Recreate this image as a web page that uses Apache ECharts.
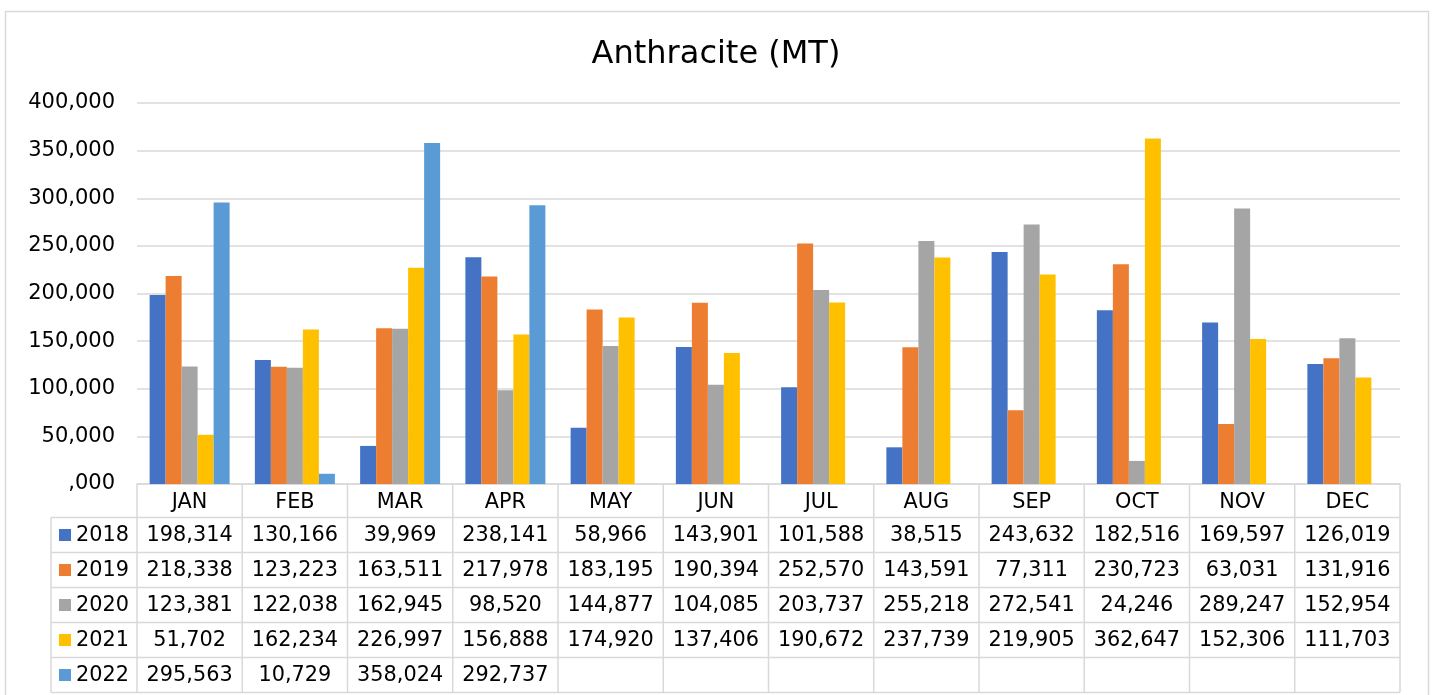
<!DOCTYPE html>
<html>
<head>
<meta charset="utf-8">
<script src="https://cdn.jsdelivr.net/npm/echarts@6/dist/echarts.min.js"></script>
<style>
  html, body { margin: 0; padding: 0; background: #fff; }
  #main { width: 1432px; height: 695px; }
</style>
</head>
<body>
<div id="main"></div>
<script>
var months = ["JAN", "FEB", "MAR", "APR", "MAY", "JUN", "JUL", "AUG", "SEP", "OCT", "NOV", "DEC"];
var years = ["2018", "2019", "2020", "2021", "2022"];
var colors = ["#4472C4", "#ED7D31", "#A5A5A5", "#FFC000", "#5B9BD5"];

var v2018 = [198314, 130166, 39969, 238141, 58966, 143901, 101588, 38515, 243632, 182516, 169597, 126019];
var v2019 = [218338, 123223, 163511, 217978, 183195, 190394, 252570, 143591, 77311, 230723, 63031, 131916];
var v2020 = [123381, 122038, 162945, 98520, 144877, 104085, 203737, 255218, 272541, 24246, 289247, 152954];
var v2021 = [51702, 162234, 226997, 156888, 174920, 137406, 190672, 237739, 219905, 362647, 152306, 111703];
var v2022 = [295563, 10729, 358024, 292737, null, null, null, null, null, null, null, null];
var values = [v2018, v2019, v2020, v2021, v2022];

// layout of plot + data table
var W = 1432, H = 695;
var gLeft = 137, gRight = 1400, gTop = 103, gBottom = 484;
var rowTop = 517.5, rowH = 35, keyLeft = 51;
var gridColor = "#d9d9d9";
var font = "DejaVu Sans, Verdana, sans-serif";
var cellSize = 20.8;

function fmt(v) {
  if (v === 0) return ",000";
  return v.toLocaleString("en-US");
}

var chart = echarts.init(document.getElementById("main"));

var colW = (gRight - gLeft) / months.length;
var graphics = [];

// outer border
graphics.push({
  type: "rect", shape: { x: 5.5, y: 11.5, width: 1423, height: 700 },
  style: { fill: "none", stroke: gridColor, lineWidth: 1.5 }, silent: true
});

var tableBottom = rowTop + rowH * years.length;
// horizontal table lines
for (var r = 0; r <= years.length; r++) {
  var y = rowTop + r * rowH;
  graphics.push({ type: "line", shape: { x1: keyLeft, y1: y, x2: gRight, y2: y },
    style: { stroke: gridColor, lineWidth: 1.5 }, silent: true });
}
// vertical table lines
graphics.push({ type: "line", shape: { x1: keyLeft, y1: rowTop, x2: keyLeft, y2: tableBottom },
  style: { stroke: gridColor, lineWidth: 1.5 }, silent: true });
for (var c = 0; c <= months.length; c++) {
  var x = gLeft + c * colW;
  graphics.push({ type: "line", shape: { x1: x, y1: gBottom, x2: x, y2: tableBottom },
    style: { stroke: gridColor, lineWidth: 1.5 }, silent: true });
}
// legend keys and cell values
for (var s = 0; s < years.length; s++) {
  var cy = rowTop + s * rowH + rowH / 2;
  graphics.push({ type: "rect", shape: { x: 59, y: cy - 6, width: 12, height: 12 },
    style: { fill: colors[s] }, silent: true });
  graphics.push({ type: "text", style: { text: years[s], x: 76, y: cy + 1, fill: "#000",
    font: cellSize + "px " + font, align: "left", verticalAlign: "middle" }, silent: true });
  for (var m = 0; m < months.length; m++) {
    var val = values[s][m];
    if (val == null) continue;
    graphics.push({ type: "text", style: { text: fmt(val), x: gLeft + (m + 0.5) * colW, y: cy + 1,
      fill: "#000", font: cellSize + "px " + font, align: "center", verticalAlign: "middle" }, silent: true });
  }
}

var series = years.map(function (y, i) {
  return {
    name: y,
    type: "bar",
    data: values[i],
    barWidth: 16,
    barGap: "0%",
    itemStyle: { color: colors[i] },
    animation: false
  };
});

chart.setOption({
  animation: false,
  title: {
    text: "Anthracite (MT)",
    left: "center",
    top: 34,
    textStyle: { fontFamily: font, fontSize: 32, fontWeight: "normal", color: "#000" }
  },
  grid: { left: gLeft, right: W - gRight, top: gTop, bottom: H - gBottom, containLabel: false },
  xAxis: {
    type: "category",
    data: months,
    axisLine: { show: true, lineStyle: { color: gridColor, width: 1.5 } },
    axisTick: { show: false },
    axisLabel: { margin: 8, color: "#000", fontFamily: font, fontSize: cellSize, interval: 0 }
  },
  yAxis: {
    type: "value",
    min: 0,
    max: 400000,
    interval: 50000,
    axisLine: { show: false },
    axisTick: { show: false },
    splitLine: { lineStyle: { color: gridColor, width: 1.5 } },
    axisLabel: { margin: 22, color: "#000", fontFamily: font, fontSize: 21, formatter: fmt }
  },
  series: series,
  graphic: graphics
});
</script>
</body>
</html>
